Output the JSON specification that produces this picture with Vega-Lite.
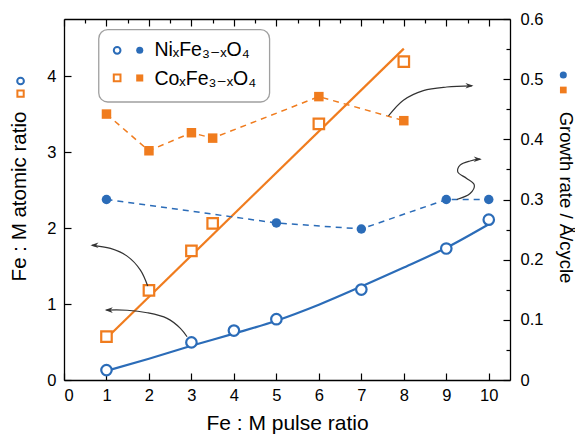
{
  "$schema": "https://vega.github.io/schema/vega-lite/v6.json",
  "width": 446,
  "height": 361,
  "autosize": "none",
  "padding": {"left": 64, "top": 19, "right": 65, "bottom": 55},
  "config": {
    "view": {"stroke": null},
    "font": "Liberation Sans",
    "axis": {
      "domainColor": "#000", "domainWidth": 1.3, "tickColor": "#000", "tickWidth": 1.2,
      "labelColor": "#000", "titleColor": "#000", "labelFontSize": 16.5, "titleFontSize": 20.5,
      "titleFontWeight": "normal", "grid": false, "labelFont": "Liberation Sans", "titleFont": "Liberation Sans"
    }
  },
  "datasets": {
    "ni_fit": [
      {"x": 1, "y": 0.12}, {"x": 2, "y": 0.28}, {"x": 3, "y": 0.45}, {"x": 4, "y": 0.61}, {"x": 5, "y": 0.78},
      {"x": 6, "y": 0.99}, {"x": 7, "y": 1.23}, {"x": 8, "y": 1.48}, {"x": 9, "y": 1.74}, {"x": 10, "y": 2.05}
    ],
    "co_fit": [{"x": 1, "y": 0.55}, {"x": 8, "y": 4.36}],
    "ni_ratio": [
      {"x": 1, "y": 0.13}, {"x": 3, "y": 0.495}, {"x": 4, "y": 0.65}, {"x": 5, "y": 0.8},
      {"x": 7, "y": 1.19}, {"x": 9, "y": 1.73}, {"x": 10, "y": 2.11}
    ],
    "co_ratio": [
      {"x": 1, "y": 0.57}, {"x": 2, "y": 1.18}, {"x": 3, "y": 1.7}, {"x": 3.5, "y": 2.06},
      {"x": 6, "y": 3.37}, {"x": 8, "y": 4.19}
    ],
    "ni_growth": [
      {"x": 1, "y": 0.3}, {"x": 5, "y": 0.261}, {"x": 7, "y": 0.251}, {"x": 9, "y": 0.3}, {"x": 10, "y": 0.3}
    ],
    "co_growth": [
      {"x": 1, "y": 0.442}, {"x": 2, "y": 0.381}, {"x": 3, "y": 0.411}, {"x": 3.5, "y": 0.402},
      {"x": 6, "y": 0.471}, {"x": 8, "y": 0.431}
    ],
    "arrows_left": [
      {"arrow": "co", "o": 1, "x": 1.971, "y": 1.236}, {"arrow": "co", "o": 2, "x": 1.799, "y": 1.446},
      {"arrow": "co", "o": 3, "x": 1.486, "y": 1.63}, {"arrow": "co", "o": 4, "x": 1.094, "y": 1.731},
      {"arrow": "co", "o": 5, "x": 0.66, "y": 1.772},
      {"arrow": "ni", "o": 1, "x": 2.897, "y": 0.569}, {"arrow": "ni", "o": 2, "x": 2.74, "y": 0.68},
      {"arrow": "ni", "o": 3, "x": 2.427, "y": 0.811}, {"arrow": "ni", "o": 4, "x": 1.957, "y": 0.885},
      {"arrow": "ni", "o": 5, "x": 1.486, "y": 0.918}, {"arrow": "ni", "o": 6, "x": 1.0, "y": 0.92}
    ],
    "heads_left": [{"x": 0.623, "y": 1.774}, {"x": 0.96, "y": 0.92}],
    "arrows_right": [
      {"arrow": "co", "o": 1, "x": 7.639, "y": 0.4388}, {"arrow": "co", "o": 2, "x": 7.99, "y": 0.465},
      {"arrow": "co", "o": 3, "x": 8.46, "y": 0.481}, {"arrow": "co", "o": 4, "x": 9.01, "y": 0.487},
      {"arrow": "co", "o": 5, "x": 9.6, "y": 0.489},
      {"arrow": "ni", "o": 1, "x": 9.247, "y": 0.3}, {"arrow": "ni", "o": 2, "x": 9.56, "y": 0.31},
      {"arrow": "ni", "o": 3, "x": 9.66, "y": 0.324}, {"arrow": "ni", "o": 4, "x": 9.48, "y": 0.335},
      {"arrow": "ni", "o": 5, "x": 9.27, "y": 0.346}, {"arrow": "ni", "o": 6, "x": 9.325, "y": 0.357},
      {"arrow": "ni", "o": 7, "x": 9.56, "y": 0.364}, {"arrow": "ni", "o": 8, "x": 9.8, "y": 0.367}
    ],
    "heads_right": [{"x": 9.64, "y": 0.489}, {"x": 9.835, "y": 0.367}],
    "legend_box": [{"x": 0.818, "x2": 4.84, "y": 4.61, "y2": 3.658}],
    "legend_text": [
      {"x": 2.128, "y": 4.259, "label": "NiₓFe₃₋ₓO₄"},
      {"x": 2.128, "y": 3.887, "label": "CoₓFe₃₋ₓO₄"}
    ],
    "leg_open_circle": [{"x": 1.251, "y": 4.338}],
    "leg_fill_circle": [{"x": 1.783, "y": 4.338}],
    "leg_open_square": [{"x": 1.251, "y": 3.974}],
    "leg_fill_square": [{"x": 1.783, "y": 3.974}],
    "title_open_circle": [{"x": -1.023, "y": 3.934}],
    "title_open_square": [{"x": -1.023, "y": 3.768}],
    "title_fill_circle": [{"x": 11.755, "y": 0.507}],
    "title_fill_square": [{"x": 11.755, "y": 0.482}]
  },
  "layer": [
    {
      "encoding": {
        "x": {
          "field": "x", "type": "quantitative",
          "scale": {"domain": [0, 10.5], "nice": false, "zero": false},
          "axis": {
            "orient": "bottom",
            "values": [0, 0.5, 1, 1.5, 2, 2.5, 3, 3.5, 4, 4.5, 5, 5.5, 6, 6.5, 7, 7.5, 8, 8.5, 9, 9.5, 10],
            "format": "d",
            "labelExpr": "datum.value % 1 ? '' : datum.label",
            "tickSize": {"condition": {"test": "datum.value % 1 !== 0", "value": -4}, "value": -7},
            "labelPadding": 14,
            "title": "Fe : M pulse ratio",
            "titleFontSize": 21,
            "titlePadding": 9
          }
        },
        "y": {
          "field": "y", "type": "quantitative",
          "scale": {"domain": [0, 4.75], "nice": false, "zero": false},
          "axis": {
            "orient": "left",
            "values": [0, 0.5, 1, 1.5, 2, 2.5, 3, 3.5, 4, 4.5],
            "format": "d",
            "labelExpr": "datum.value % 1 ? '' : datum.label",
            "tickSize": {"condition": {"test": "datum.value % 1 !== 0", "value": -4}, "value": -7},
            "labelPadding": 15,
            "title": "Fe : M atomic ratio",
            "titleX": -45, "titleY": 177, "titleBaseline": "middle", "titleAlign": "center"
          }
        }
      },
      "layer": [
        {
          "data": {"name": "legend_box"},
          "mark": {"type": "rect", "fill": "#fff", "stroke": "#a0a0a0", "strokeWidth": 1.3, "cornerRadius": 9},
          "encoding": {"x2": {"field": "x2"}, "y2": {"field": "y2"}}
        },
        {
          "data": {"name": "ni_fit"},
          "mark": {"type": "line", "color": "#2b6cb8", "strokeWidth": 2.2, "interpolate": "monotone"}
        },
        {
          "data": {"name": "co_fit"},
          "mark": {"type": "line", "color": "#f07c1e", "strokeWidth": 2.2}
        },
        {
          "data": {"name": "ni_ratio"},
          "mark": {"type": "point", "shape": "circle", "filled": true, "fill": "#fff", "stroke": "#2b6cb8", "strokeWidth": 2.2, "size": 110, "opacity": 1}
        },
        {
          "data": {"name": "co_ratio"},
          "mark": {"type": "point", "shape": "square", "filled": true, "fill": "#fff", "stroke": "#f07c1e", "strokeWidth": 2.2, "size": 110, "opacity": 1}
        },
        {
          "data": {"name": "arrows_left"},
          "mark": {"type": "line", "color": "#333", "strokeWidth": 1.2, "interpolate": "catmull-rom"},
          "encoding": {"detail": {"field": "arrow"}, "order": {"field": "o", "type": "quantitative"}}
        },
        {
          "data": {"name": "heads_left"},
          "mark": {"type": "point", "shape": "M0,0 L2,-0.7 L1.4,0 L2,0.7 Z", "filled": true, "color": "#333", "size": 64, "opacity": 1}
        },
        {
          "data": {"name": "legend_text"},
          "mark": {"type": "text", "align": "left", "baseline": "alphabetic", "fontSize": 19.5, "font": "Liberation Sans, DejaVu Sans", "color": "#000"},
          "encoding": {"text": {"field": "label"}}
        },
        {
          "data": {"name": "leg_open_circle"},
          "mark": {"type": "point", "shape": "circle", "filled": true, "fill": "#fff", "stroke": "#2b6cb8", "strokeWidth": 2, "size": 45, "opacity": 1}
        },
        {
          "data": {"name": "leg_fill_circle"},
          "mark": {"type": "point", "shape": "circle", "filled": true, "color": "#2b6cb8", "size": 50, "opacity": 1}
        },
        {
          "data": {"name": "leg_open_square"},
          "mark": {"type": "point", "shape": "square", "filled": true, "fill": "#fff", "stroke": "#f07c1e", "strokeWidth": 2, "size": 45, "opacity": 1}
        },
        {
          "data": {"name": "leg_fill_square"},
          "mark": {"type": "point", "shape": "square", "filled": true, "color": "#f07c1e", "size": 50, "opacity": 1}
        },
        {
          "data": {"name": "title_open_circle"},
          "mark": {"type": "point", "shape": "circle", "filled": true, "fill": "#fff", "stroke": "#2b6cb8", "strokeWidth": 2, "size": 45, "opacity": 1}
        },
        {
          "data": {"name": "title_open_square"},
          "mark": {"type": "point", "shape": "square", "filled": true, "fill": "#fff", "stroke": "#f07c1e", "strokeWidth": 2, "size": 40, "opacity": 1}
        }
      ]
    },
    {
      "encoding": {
        "x": {
          "field": "x", "type": "quantitative",
          "scale": {"domain": [0, 10.5], "nice": false, "zero": false},
          "axis": {
            "orient": "top",
            "values": [0, 0.5, 1, 1.5, 2, 2.5, 3, 3.5, 4, 4.5, 5, 5.5, 6, 6.5, 7, 7.5, 8, 8.5, 9, 9.5, 10],
            "labels": false,
            "tickSize": {"condition": {"test": "datum.value % 1 !== 0", "value": -4}, "value": -7},
            "title": null
          }
        },
        "y": {
          "field": "y", "type": "quantitative",
          "scale": {"domain": [0, 0.6], "nice": false, "zero": false},
          "axis": {
            "orient": "right",
            "values": [0, 0.05, 0.1, 0.15, 0.2, 0.25, 0.3, 0.35, 0.4, 0.45, 0.5, 0.55, 0.6],
            "format": ".1~f",
            "labelExpr": "round(datum.value * 100) % 10 ? '' : datum.label",
            "tickSize": {"condition": {"test": "round(datum.value * 100) % 10 !== 0", "value": -4}, "value": -7},
            "labelPadding": 17,
            "title": "Growth rate / Å/cycle",
            "titleFontSize": 18.5,
            "titleX": 55, "titleY": 178, "titleBaseline": "middle", "titleAlign": "center"
          }
        }
      },
      "layer": [
        {
          "data": {"name": "ni_growth"},
          "mark": {"type": "line", "color": "#2b6cb8", "strokeWidth": 1.5, "strokeDash": [6, 5]}
        },
        {
          "data": {"name": "ni_growth"},
          "mark": {"type": "point", "shape": "circle", "filled": true, "color": "#2b6cb8", "size": 90, "opacity": 1}
        },
        {
          "data": {"name": "co_growth"},
          "mark": {"type": "line", "color": "#f07c1e", "strokeWidth": 1.5, "strokeDash": [6, 5]}
        },
        {
          "data": {"name": "co_growth"},
          "mark": {"type": "point", "shape": "square", "filled": true, "color": "#f07c1e", "size": 90, "opacity": 1}
        },
        {
          "data": {"name": "arrows_right"},
          "mark": {"type": "line", "color": "#333", "strokeWidth": 1.2, "interpolate": "catmull-rom"},
          "encoding": {"detail": {"field": "arrow"}, "order": {"field": "o", "type": "quantitative"}}
        },
        {
          "data": {"name": "heads_right"},
          "mark": {"type": "point", "shape": "M0,0 L-2,-0.7 L-1.4,0 L-2,0.7 Z", "filled": true, "color": "#333", "size": 64, "opacity": 1}
        },
        {
          "data": {"name": "title_fill_circle"},
          "mark": {"type": "point", "shape": "circle", "filled": true, "color": "#2b6cb8", "size": 50, "opacity": 1}
        },
        {
          "data": {"name": "title_fill_square"},
          "mark": {"type": "point", "shape": "square", "filled": true, "color": "#f07c1e", "size": 45, "opacity": 1}
        }
      ]
    }
  ],
  "resolve": {"scale": {"y": "independent"}}
}
